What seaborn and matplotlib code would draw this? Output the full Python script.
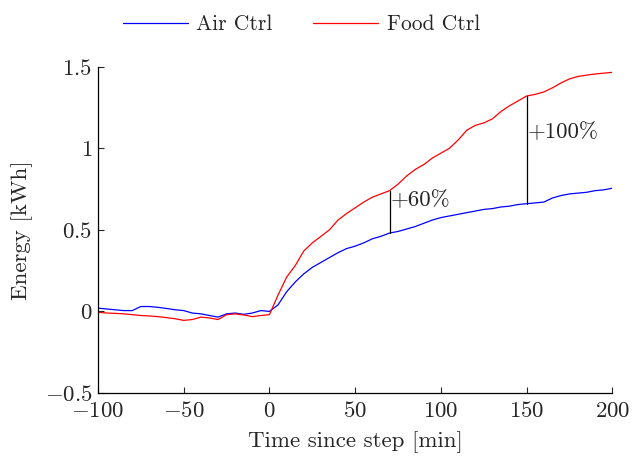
import numpy as np
import pandas as pd
import matplotlib
matplotlib.use("Agg")
import matplotlib.pyplot as plt
import seaborn as sns
from matplotlib.lines import Line2D

time_min = list(range(-100, 201, 5))
air_ctrl = [0.02, 0.015, 0.01, 0.005, 0.005, 0.03, 0.03, 0.025, 0.018, 0.01,
            0.005, -0.01, -0.015, -0.025, -0.035, -0.015, -0.01, -0.018, -0.01, 0.005,
            0.0, 0.04, 0.12, 0.18, 0.23, 0.27, 0.30, 0.33, 0.36, 0.385,
            0.40, 0.42, 0.445, 0.46, 0.48, 0.49, 0.505, 0.52, 0.54, 0.56,
            0.575, 0.585, 0.595, 0.605, 0.615, 0.625, 0.63, 0.64, 0.645, 0.655,
            0.66, 0.665, 0.67, 0.695, 0.71, 0.72, 0.725, 0.73, 0.74, 0.745, 0.755]
food_ctrl = [-0.005, -0.01, -0.012, -0.015, -0.02, -0.025, -0.028, -0.032, -0.038, -0.045,
             -0.055, -0.05, -0.035, -0.04, -0.05, -0.02, -0.015, -0.022, -0.032, -0.025,
             -0.02, 0.10, 0.21, 0.28, 0.37, 0.42, 0.46, 0.50, 0.56, 0.60,
             0.635, 0.67, 0.70, 0.72, 0.74, 0.78, 0.83, 0.87, 0.90, 0.94,
             0.97, 1.00, 1.05, 1.11, 1.14, 1.155, 1.18, 1.225, 1.26, 1.29,
             1.32, 1.33, 1.345, 1.37, 1.40, 1.425, 1.44, 1.448, 1.455, 1.46, 1.465]
series_names = ["Air Ctrl", "Food Ctrl"]
series_colors = ["#0000ff", "#ff0000"]
annot_t = [70, 150]
annot_text = ["+60%", "+100%"]
x_ticks = [-100, -50, 0, 50, 100, 150, 200]
x_tick_labels = ["$-100$", "$-50$", "$0$", "$50$", "$100$", "$150$", "$200$"]
y_ticks = [-0.5, 0, 0.5, 1, 1.5]
y_tick_labels = ["$-0.5$", "$0$", "$0.5$", "$1$", "$1.5$"]

sns.set_style("ticks")
plt.rcParams["font.family"] = ["cmr10", "DejaVu Serif"]
plt.rcParams["mathtext.fontset"] = "cm"
plt.rcParams["axes.formatter.use_mathtext"] = True
plt.rcParams["axes.unicode_minus"] = True

FS = 16.5

df = pd.DataFrame({
    "t": time_min * 2,
    "E": air_ctrl + food_ctrl,
    "series": [series_names[0]] * len(time_min) + [series_names[1]] * len(time_min),
})

fig = plt.figure(figsize=(6.36, 4.61), dpi=100)
ax = fig.add_axes([0.154, 0.1475, 0.809, 0.708])
sns.lineplot(data=df, x="t", y="E", hue="series", palette=series_colors,
             linewidth=0.9, ax=ax, legend=False)

air_map = dict(zip(time_min, air_ctrl))
food_map = dict(zip(time_min, food_ctrl))
text_y = [0.68, 1.10]
for t, txt, ty in zip(annot_t, annot_text, text_y):
    ax.plot([t, t], [air_map[t], food_map[t]], color="black", linewidth=0.9)
    ax.text(t + 0.5, ty, txt, fontsize=FS, ha="left", va="center")

ax.set_xlim(-100, 200)
ax.set_ylim(-0.5, 1.5)
ax.set_xticks(x_ticks)
ax.set_yticks(y_ticks)
ax.set_xticklabels(x_tick_labels)
ax.set_yticklabels(y_tick_labels)
ax.tick_params(direction="in", length=4, width=0.8, labelsize=FS)
ax.tick_params(axis="x", pad=6)
ax.tick_params(axis="y", pad=4)
for s in ["top", "right"]:
    ax.spines[s].set_visible(False)
for s in ["left", "bottom"]:
    ax.spines[s].set_linewidth(0.9)
    ax.spines[s].set_color("black")
ax.set_xlabel("Time since step [min]", fontsize=FS, labelpad=7)
ax.set_ylabel("Energy [kWh]", fontsize=FS, labelpad=8)

handles = [Line2D([], [], color=c, linewidth=0.9) for c in series_colors]
fig.legend(handles, series_names, loc="upper center", bbox_to_anchor=(0.474, 1.01),
           ncol=2, frameon=False, fontsize=15.5, handlelength=3.0, columnspacing=1.9,
           handletextpad=0.4)

fig.savefig("out.png", dpi=100)
